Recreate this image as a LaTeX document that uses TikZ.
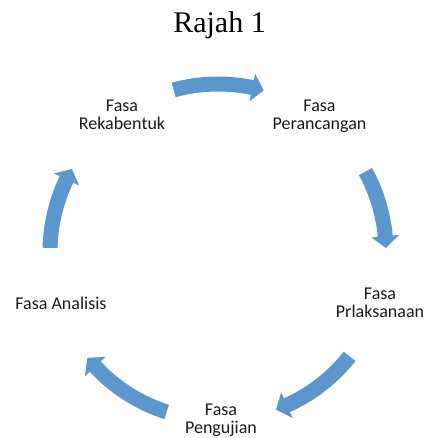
\documentclass[tikz,border=0pt]{standalone}
\usepackage{fontspec}
\setmainfont{Liberation Serif}
\newfontfamily\calibri{Carlito}
\usetikzlibrary{calc}
\definecolor{arrowblue}{HTML}{5B96CC}
\tikzset{
  phase/.style={font=\calibri\fontsize{18}{18}\selectfont, align=center, inner sep=0pt, text=black!90},
  cyclearrow/.style={fill=arrowblue, draw=none}
}
\begin{document}
\begin{tikzpicture}[x=1pt,y=1pt]
\useasboundingbox (0,0) rectangle (425,-438);
\node[font=\fontsize{30}{32}\selectfont, anchor=base, inner sep=0pt] (title) at (219.5,-33) {Rajah 1};
\coordinate (C) at (218,-252);
\node[phase] (rek) at (122,-114.5) {Fasa\\Rekabentuk};
\node[phase] (per) at (319.5,-116) {Fasa\\Perancangan};
\node[phase] (pel) at (380,-303) {Fasa\\Prlaksanaan};
\node[phase] (pen) at (221,-420) {Fasa\\Pengujian};
\node[phase, anchor=base] (ana) at (61,-309.5) {Fasa Analisis};
\def\R{168}
\foreach \s/\t in {105.3/74.2, 28.6/1.4, -38.4/-69.8, -107.8/-141, 178.6/150.4}{
  \pgfmathsetmacro\b{\t+4}
  \fill[cyclearrow]
    ([shift={(C)}]\s:\R+7.5) arc[start angle=\s, end angle=\b, radius=\R+7.5]
    -- ([shift={(C)}]\b:\R+14)
    -- ([shift={(C)}]\t:\R)
    -- ([shift={(C)}]\b:\R-14)
    -- ([shift={(C)}]\b:\R-7.5)
    arc[start angle=\b, end angle=\s, radius=\R-7.5]
    -- cycle;
}
\end{tikzpicture}
\end{document}
